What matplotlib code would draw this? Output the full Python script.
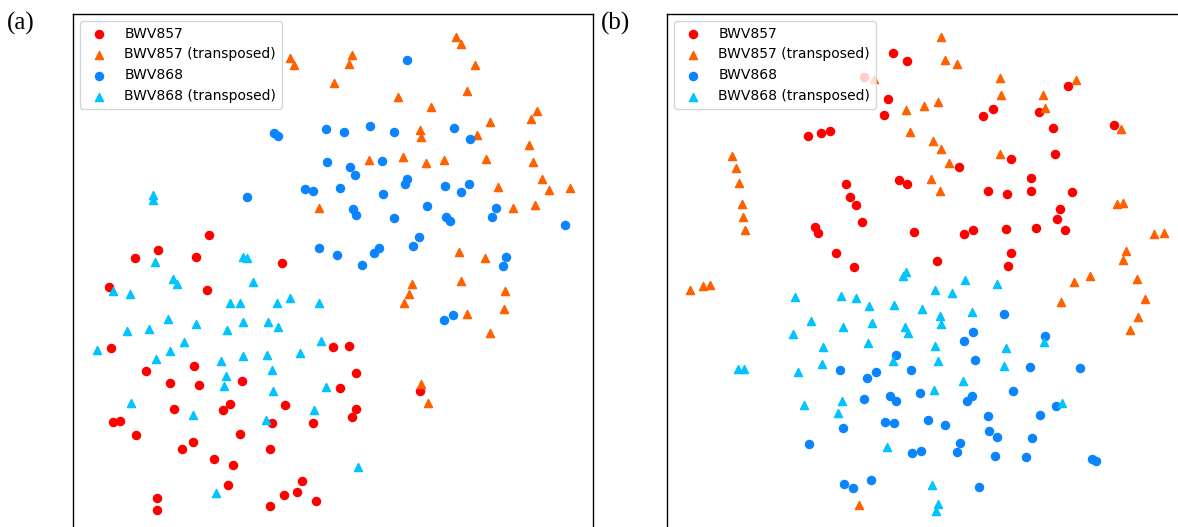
import matplotlib.pyplot as plt
import numpy as np

# embedding coordinates (x right, y down)
# panel (a)
a_857_x = [209,158,135,196,282,109,207,111,333,349,194,146,356,170,199,242,340,174,223,230,285,356,352,113,120,272,313,136,240,182,193,270,214,233,302,228,284,297,316,157,157,270,420]
a_857_y = [235,250,258,257,263,287,290,348,347,346,366,371,373,383,385,381,388,409,410,404,405,409,417,422,421,423,423,435,434,449,442,449,459,465,481,485,495,492,501,498,510,506,391]
a_857t_x = [290,294,319,352,349,456,461,475,334,398,467,431,537,531,490,420,421,477,529,369,403,426,444,486,533,542,549,570,498,513,535,459,485,412,409,404,461,505,504,467,490,421,428]
a_857t_y = [58,65,208,55,64,37,44,65,83,97,91,107,111,119,122,130,137,135,145,160,157,163,160,159,162,179,190,188,187,208,205,252,258,284,294,303,281,291,309,314,333,384,403]
a_868_x = [274,278,326,327,305,313,247,319,407,344,370,394,454,470,350,355,382,340,405,407,445,461,469,383,353,356,394,427,446,450,496,492,565,337,362,374,379,413,419,506,503,444,453]
a_868_y = [133,136,129,162,189,191,197,248,60,132,126,132,128,139,167,175,161,188,184,179,186,192,184,194,209,215,218,206,217,221,208,217,225,255,265,253,248,246,237,257,266,320,315]
a_868t_x = [153,153,155,243,247,173,177,113,130,253,230,240,277,290,319,168,196,127,149,227,243,268,278,184,97,170,156,221,243,267,300,321,272,226,224,273,326,131,193,266,314,358,216]
a_868t_y = [195,200,262,257,258,279,284,291,294,282,303,303,303,298,303,319,324,331,329,330,322,322,327,342,350,351,359,361,356,355,353,341,370,376,386,391,387,403,415,420,410,467,493]

# panel (b)
b_857_x = [864,893,907,888,884,808,821,830,846,850,856,862,815,818,836,854,983,993,1039,1068,1053,1114,1055,1011,959,899,907,1031,988,1007,1031,1072,1060,1057,1065,914,964,973,1006,1036,937,1011,1008]
b_857_y = [77,53,61,99,115,136,133,131,184,197,205,222,227,233,253,267,116,109,112,86,128,125,154,159,167,180,184,178,191,194,191,192,209,219,230,232,234,230,229,228,261,253,266]
b_857t_x = [874,732,736,739,742,743,745,941,945,957,1000,1076,1001,1043,1045,906,924,938,910,933,941,1121,1000,949,931,940,1117,1123,1154,1164,1126,1123,690,703,710,859,1090,1074,1061,1137,1145,1138,1130]
b_857t_y = [79,156,168,183,204,217,230,37,60,64,78,80,95,95,108,110,106,102,132,141,149,129,154,163,179,191,204,203,234,233,251,260,290,286,285,505,276,282,302,279,299,317,330]
b_868_x = [896,840,867,876,911,920,864,890,896,843,885,894,809,912,921,844,853,871,1004,973,964,1045,975,1030,1080,1013,972,967,1056,1040,988,928,945,989,997,1032,960,957,995,1026,1092,1096,979]
b_868_y = [355,370,378,372,370,393,399,396,401,428,422,423,444,453,451,484,488,480,314,332,341,336,360,367,368,391,396,401,406,415,416,420,425,431,437,438,443,452,456,457,459,461,487]
b_868t_x = [906,903,795,841,856,869,894,922,811,843,872,905,908,793,823,868,893,822,798,738,744,804,842,838,887,935,952,965,997,940,941,972,935,938,1006,1004,1044,963,934,1062,932,938,936]
b_868t_y = [272,276,297,296,298,306,305,309,321,327,323,327,333,334,347,343,361,364,372,369,369,405,401,413,447,290,293,280,284,316,324,312,346,361,348,366,342,381,390,403,485,504,511]

labels = ["BWV857", "BWV857 (transposed)", "BWV868", "BWV868 (transposed)"]
colors = ["#ff0000", "#ff6000", "#0a84ff", "#00c3ff"]
markers = ["o", "^", "o", "^"]

fig = plt.figure(figsize=(11.78, 5.27), dpi=100)
W, H = 1178, 527

panels = [
    ("(a)", 73, [(a_857_x, a_857_y), (a_857t_x, a_857t_y), (a_868_x, a_868_y), (a_868t_x, a_868t_y)]),
    ("(b)", 667, [(b_857_x, b_857_y), (b_857t_x, b_857t_y), (b_868_x, b_868_y), (b_868t_x, b_868t_y)]),
]

for tag, left, series in panels:
    ax = fig.add_axes([left / W, (H - 534) / H, 520 / W, 520 / H])
    for (xs, ys), lab, c, m in zip(series, labels, colors, markers):
        ax.scatter(xs, ys, s=34, c=c, marker=m, label=lab)
    ax.set_xlim(left, left + 520)
    ax.set_ylim(534, 14)
    ax.set_xticks([])
    ax.set_yticks([])
    for sp in ax.spines.values():
        sp.set_linewidth(1.0)
    ax.legend(loc="upper left", fontsize=10)
    fig.text((left - 66) / W, 1 - 23 / H, tag, fontsize=18,
             family="Liberation Serif", va="center", ha="left")

fig.savefig("out.png")
